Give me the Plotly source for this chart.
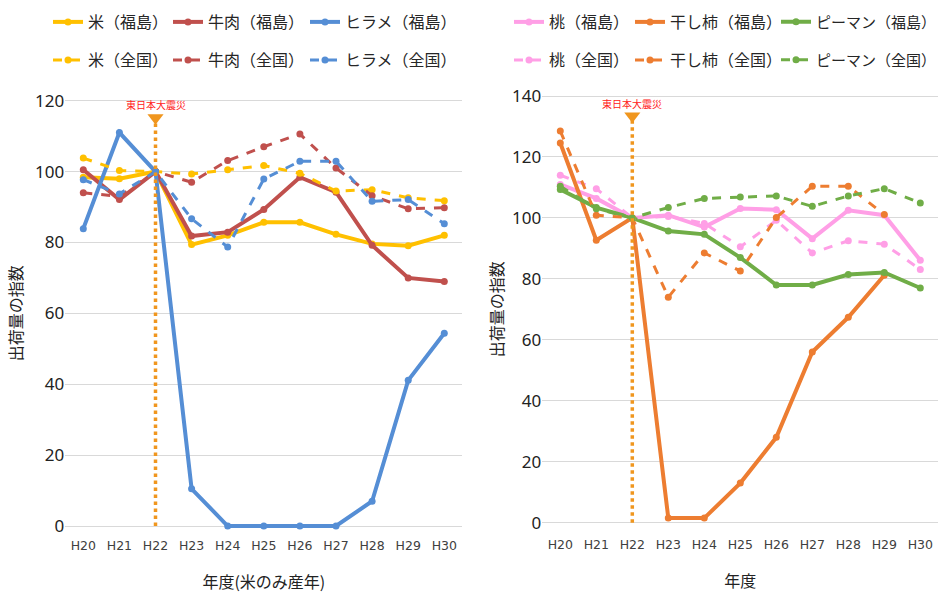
import plotly.graph_objects as go

years = ["H20", "H21", "H22", "H23", "H24", "H25", "H26", "H27", "H28", "H29", "H30"]

# Left chart
rice_fk = [98.4, 98.0, 100, 79.4, 82.0, 85.7, 85.7, 82.3, 79.6, 79.1, 82.0]
beef_fk = [100.5, 92.1, 100, 81.8, 82.9, 89.3, 98.4, 94.2, 79.2, 70.0, 69.0]
flounder_fk = [83.9, 111.0, 100, 10.5, 0, 0, 0, 0, 7.0, 41.1, 54.4]
rice_nat = [103.8, 100.3, 100, 99.3, 100.5, 101.7, 99.5, 94.5, 94.9, 92.6, 91.8]
beef_nat = [94.0, 93.0, 100, 97.0, 103.1, 107.0, 110.6, 101.0, 93.2, 89.5, 89.8]
flounder_nat = [97.7, 93.7, 100, 86.7, 78.7, 97.9, 102.9, 102.9, 91.6, 92.1, 85.3]

# Right chart
peach_fk = [111.0, 106.4, 100, 100.9, 97.0, 103.1, 102.7, 93.2, 102.5, 100.9, 86.1]
persimmon_fk = [124.6, 92.7, 100, 1.5, 1.5, 13.0, 28.0, 56.0, 67.4, 81.2, None]
pepper_fk = [109.3, 103.4, 100, 95.7, 94.6, 87.0, 78.0, 78.0, 81.4, 82.1, 77.0]
peach_nat = [114.0, 109.6, 100, 100.5, 98.2, 90.5, 99.2, 88.5, 92.5, 91.4, 83.1]
persimmon_nat = [128.5, 100.9, 100, 74.0, 88.5, 82.6, 100.1, 110.4, 110.4, 101.1, None]
pepper_nat = [110.4, 103.0, 100, 103.4, 106.4, 106.9, 107.2, 103.8, 107.2, 109.6, 104.9]

quake_year = "H22"
quake_label = "東日本大震災"
quake_top_left = 115.2
quake_top_right = 133.4

C_RICE = "#FFC000"
C_BEEF = "#C0504D"
C_FLOUNDER = "#558ED5"
C_PEACH = "#FF9FE6"
C_PERSIMMON = "#ED7D31"
C_PEPPER = "#70AD47"
C_QUAKE = "#F0961E"

JP = "Noto Sans CJK JP"
W, H = 940, 596

fig = go.Figure()
legends = {}
TEXT_OFF = 40  # plotly draws legend text 40px right of the legend's left edge

def add(name, y, color, dashed, xa, ya, lid, text_x, ypx, fsize=16):
    fig.add_trace(go.Scatter(
        x=years, y=y, name=name, mode="lines+markers",
        line=dict(color=color, width=3 if dashed else 4, dash="dash" if dashed else "solid"),
        marker=dict(color=color, size=7, symbol="circle"),
        xaxis=xa, yaxis=ya, legend=lid, cliponaxis=False,
    ))
    legends[lid] = dict(orientation="h", x=(text_x - TEXT_OFF) / W, y=1 - ypx / H,
                        xanchor="left", yanchor="middle",
                        font=dict(family=JP, size=fsize, color="#262626"),
                        bgcolor="rgba(0,0,0,0)", itemwidth=30)

add("米（福島）", rice_fk, C_RICE, False, "x", "y", "legend", 88, 22)
add("牛肉（福島）", beef_fk, C_BEEF, False, "x", "y", "legend2", 208, 22)
add("ヒラメ（福島）", flounder_fk, C_FLOUNDER, False, "x", "y", "legend3", 345, 22)
add("米（全国）", rice_nat, C_RICE, True, "x", "y", "legend4", 88, 60)
add("牛肉（全国）", beef_nat, C_BEEF, True, "x", "y", "legend5", 208, 60)
add("ヒラメ（全国）", flounder_nat, C_FLOUNDER, True, "x", "y", "legend6", 345, 60)

add("桃（福島）", peach_fk, C_PEACH, False, "x2", "y2", "legend7", 549, 22)
add("干し柿（福島）", persimmon_fk, C_PERSIMMON, False, "x2", "y2", "legend8", 670, 22)
add("ピーマン（福島）", pepper_fk, C_PEPPER, False, "x2", "y2", "legend9", 816, 22, 15)
add("桃（全国）", peach_nat, C_PEACH, True, "x2", "y2", "legend10", 549, 60)
add("干し柿（全国）", persimmon_nat, C_PERSIMMON, True, "x2", "y2", "legend11", 670, 60)
add("ピーマン（全国）", pepper_nat, C_PEPPER, True, "x2", "y2", "legend12", 816, 60, 15)

# earthquake markers
for xa, ya, top in (("x", "y", quake_top_left), ("x2", "y2", quake_top_right)):
    fig.add_trace(go.Scatter(
        x=[quake_year, quake_year], y=[0, top], mode="lines",
        line=dict(color=C_QUAKE, width=3.5, dash="dot"),
        xaxis=xa, yaxis=ya, showlegend=False, hoverinfo="skip"))
    fig.add_trace(go.Scatter(
        x=[quake_year], y=[top], mode="markers",
        marker=dict(color=C_QUAKE, size=14, symbol="triangle-down"),
        xaxis=xa, yaxis=ya, showlegend=False, hoverinfo="skip", cliponaxis=False))

xaxis_common = dict(type="category", categoryorder="array", categoryarray=years,
                    range=[-0.5, 10.5], showgrid=False, zeroline=False,
                    showline=False, ticks="",
                    tickfont=dict(family="DejaVu Sans", size=12.5, color="#404040"))
yaxis_common = dict(showgrid=True, gridcolor="#D9D9D9", gridwidth=1, zeroline=False,
                    showline=False, ticks="", tick0=0, dtick=20,
                    tickfont=dict(family="Noto Sans", size=17, color="#222222"))
title_font = dict(family=JP, size=16, color="#222222")

fig.update_layout(
    width=W, height=H, margin=dict(l=0, r=0, t=0, b=0, autoexpand=False),
    paper_bgcolor="white", plot_bgcolor="white", showlegend=True,
    xaxis=dict(xaxis_common, domain=[65.25 / W, 462.35 / W], anchor="y",
               title=dict(text="年度(米のみ産年)", font=title_font, standoff=24)),
    yaxis=dict(yaxis_common, domain=[1 - 536.65 / H, 1 - 90.05 / H], range=[-3, 123], anchor="x",
               title=dict(text="出荷量の指数", font=title_font, standoff=8)),
    xaxis2=dict(xaxis_common, domain=[542.3 / W, 938.3 / W], anchor="y2", ticklabelstandoff=4,
                title=dict(text="年度", font=title_font, standoff=24)),
    yaxis2=dict(yaxis_common, domain=[1 - 531.84 / H, 1 - 86.86 / H], range=[-3, 143], anchor="x2",
                title=dict(text="出荷量の指数", font=title_font, standoff=4)),
    **legends,
)

fig.add_annotation(x=quake_year, y=118.8, xref="x", yref="y", text=quake_label, showarrow=False,
                   font=dict(family=JP, size=10, color="#FF2020"))
fig.add_annotation(x=quake_year, y=137.6, xref="x2", yref="y2", text=quake_label, showarrow=False,
                   font=dict(family=JP, size=10, color="#FF2020"))

fig.write_html("out.html")
